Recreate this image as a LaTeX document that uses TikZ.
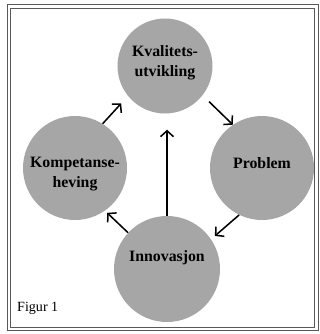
\documentclass[tikz,border=0pt]{standalone}
\usepackage{fontspec}
\setmainfont{Liberation Serif}
\usepackage{tikz}
\usetikzlibrary{arrows.meta}
\tikzstyle{blob} = [circle, fill=black!35, inner sep=0pt]
\tikzstyle{lbl} = [font=\fontsize{13.5}{17}\selectfont\bfseries, align=center, inner sep=0pt]
\tikzstyle{arrow} = [line width=1.3pt, -{Straight Barb[length=5pt,width=11pt]}]

\begin{document}
\begin{tikzpicture}[x=0.03cm, y=-0.03cm]
\useasboundingbox (0,0) rectangle (320,334);
\draw[black!65, double, double distance=2pt, line width=0.8pt] (9,6.5) rectangle (316.5,329);

\node[blob, minimum size=2.85cm] (kval) at (165,66) {};
\node[blob, minimum size=3.12cm] (kom) at (75,168) {};
\node[blob, minimum size=3.12cm] (prob) at (262,168) {};
\node[blob, minimum size=3.18cm] (inn) at (167,269) {};

\node[lbl] (kval-t) at (165,63) {Kvalitets-\\utvikling};
\node[lbl] (kom-t) at (75,174) {Kompetanse-\\heving};
\node[lbl] (prob-t) at (262,163) {Problem};
\node[lbl] (inn-t) at (167,258) {Innovasjon};

\draw[arrow, shorten >=0.3cm] (kom.58) -- (kval.219);
\draw[arrow, shorten <=0.27cm] (kval.322) -- (prob.124);
\draw[arrow, shorten >=0.15cm] (prob.244) -- (inn.34);
\draw[arrow, shorten >=0.09cm] (inn.137) -- (kom.305);
\draw[arrow, shorten >=0.48cm] (inn.north) -- (inn.north |- kval.south);

\node[font=\fontsize{12}{14}\selectfont, anchor=west, inner sep=0pt] (fig) at (17,308) {Figur 1};
\end{tikzpicture}
\end{document}
